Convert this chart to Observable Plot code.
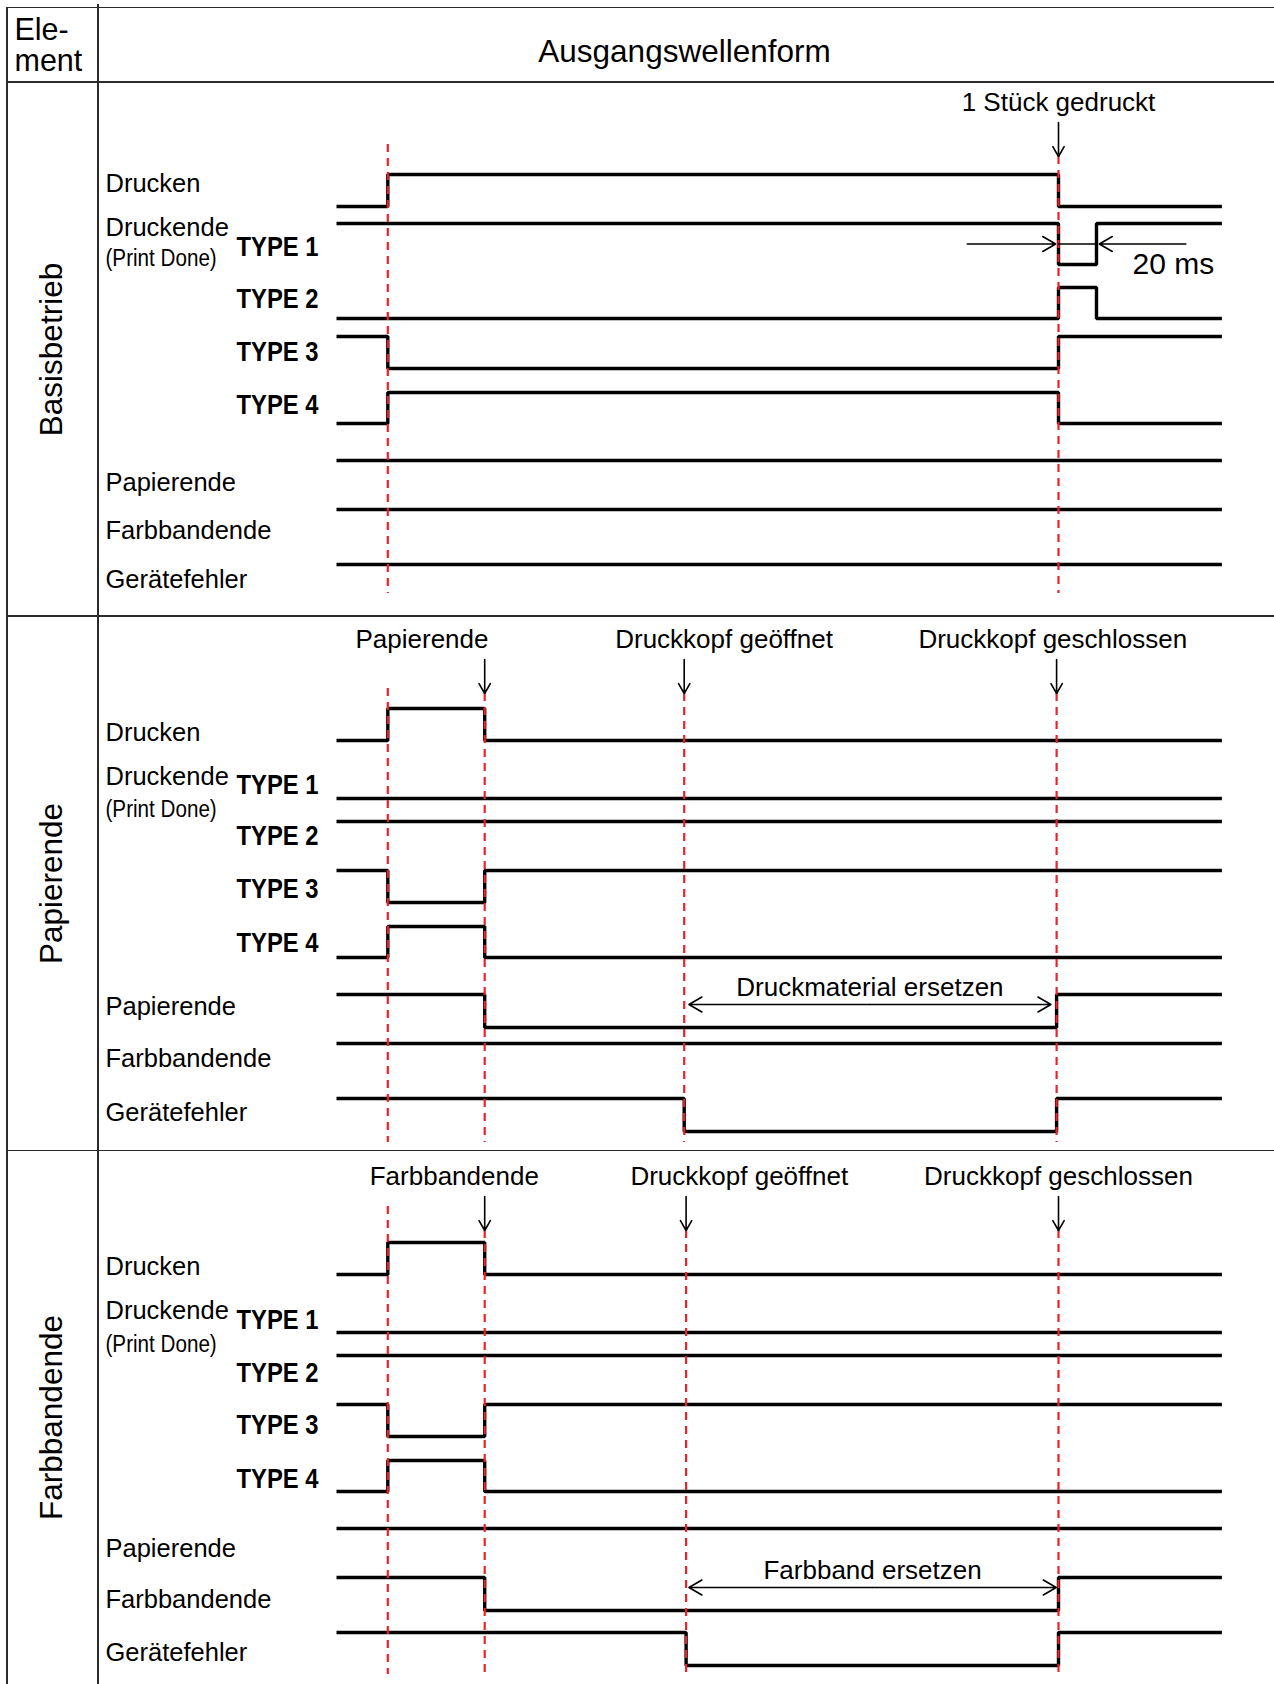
<!DOCTYPE html>
<html><head><meta charset="utf-8">
<script src="https://cdn.jsdelivr.net/npm/d3@7"></script>
<script src="https://cdn.jsdelivr.net/npm/@observablehq/plot@0.6"></script>
<style>
body{margin:0;background:#fff;}
#wrap{position:relative;width:1274px;height:1684px;overflow:hidden;background:#fff;}
#wrap svg{position:absolute;left:0;top:0;}
.gl{position:absolute;background:#2b2b2b;}
</style></head><body>
<div id="wrap"></div>
<script>
// ---------------- data ----------------
const sections = ["Basisbetrieb", "Papierende", "Farbbandende"];
const signals = ["Drucken", "TYPE 1", "TYPE 2", "TYPE 3", "TYPE 4", "Papierende", "Farbbandende", "Gerätefehler"];
const signalLabels = ["Drucken", "Druckende", "(Print Done)", "TYPE 1", "TYPE 2", "TYPE 3", "TYPE 4", "Papierende", "Farbbandende", "Gerätefehler"];
const labelKinds = ["normal", "normal", "narrow", "type", "type", "type", "type", "normal", "normal", "normal"];
const headerElement = ["Ele-", "ment"];
const headerTitle = ["Ausgangswellenform"];
const timeEnd = 466; // time units (20 ms pulse = 20 units)

// initial level (1 = high, 0 = low) and toggle times per signal
const basisInitial = [0, 1, 0, 1, 0, 1, 1, 1];
const basisToggles = [[27, 380], [380, 400], [380, 400], [27, 380], [27, 380], [], [], []];
const paperInitial = [0, 0, 1, 1, 0, 1, 1, 1];
const paperToggles = [[27, 78], [], [], [27, 78], [27, 78], [78, 379], [], [183, 379]];
const ribbonInitial = [0, 0, 1, 1, 0, 1, 1, 1];
const ribbonToggles = [[27, 78], [], [], [27, 78], [27, 78], [], [78, 380], [184, 380]];

// red dashed event times
const basisEvents = [27, 380];
const paperEvents = [27, 78, 183, 379];
const ribbonEvents = [27, 78, 184, 380];

// event notes: [text, arrow time, text centre time]
const basisNotes = [["1 Stück gedruckt", 380, 380]];
const paperNotes = [["Papierende", 78, 45], ["Druckkopf geöffnet", 183, 204], ["Druckkopf geschlossen", 379, 377]];
const ribbonNotes = [["Farbbandende", 78, 62], ["Druckkopf geöffnet", 184, 212], ["Druckkopf geschlossen", 380, 380]];

// duration notes: [text, from, to, signal index]
const pulseNote = ["20 ms", 380, 400, 1];
const paperSpan = ["Druckmaterial ersetzen", 185.5, 376, 5];
const ribbonSpan = ["Farbband ersetzen", 185.5, 378.8, 6];

// ---------------- layout ----------------
const W = 1274, H = 1684;
const FONT = "'Liberation Sans', Arial, Helvetica, sans-serif";
const sectionTop = [82, 616, 1150];
const sectionH = 534;
const xRange = [336, 336 + 1.9 * timeEnd];
const rowHigh = [92, 141, 205, 254, 310, 378, 427, 482];
const rowLow  = [124, 182, 236, 286, 341, 411, 460, 515];
const labelYs = [
  [109, 153, 183, 173, 225, 278, 331, 408, 456, 505],
  [124, 168, 200, 177, 228, 281, 335, 398, 450, 504],
  [124, 168, 201, 178, 231, 283, 337, 406, 457, 510]
];
const labelX = {normal: 105, narrow: 105, type: 236};
const noteBaseline = [28, 31, 34];
const guideTop = [62, 72, 56];
const guideBottom = [511, 526, 524];

const inits = [basisInitial, paperInitial, ribbonInitial];
const toggles = [basisToggles, paperToggles, ribbonToggles];
const events = [basisEvents, paperEvents, ribbonEvents];
const notes = [basisNotes, paperNotes, ribbonNotes];

const levelY = (s, i, l) => sectionTop[s] + (l ? rowHigh[i] : rowLow[i]);

// waveform step points
const wavePts = [];
sections.forEach((sec, s) => signals.forEach((sig, i) => {
  let l = inits[s][i];
  const key = s + "|" + i;
  wavePts.push({key, t: 0, y: levelY(s, i, l)});
  for (const t of toggles[s][i]) { l = 1 - l; wavePts.push({key, t, y: levelY(s, i, l)}); }
  wavePts.push({key, t: timeEnd, y: levelY(s, i, l)});
}));

// notes + arrows
const noteRows = [];
notes.forEach((arr, s) => arr.forEach(([text, t, tc]) => {
  const b = sectionTop[s] + noteBaseline[s];
  noteRows.push({s, text, t, tc, y: b, y1: b + 12, y2: b + 46});
}));

// guides
const guideRows = [];
events.forEach((arr, s) => arr.forEach(t => {
  const n = noteRows.find(d => d.t === t && d.s === s);
  guideRows.push({t, y1: n ? n.y2 : sectionTop[s] + guideTop[s], y2: sectionTop[s] + guideBottom[s]});
}));

// spans
const spanRows = [[paperSpan, 1], [ribbonSpan, 2]].map(([[text, a, b, sig], s]) => ({
  text, a, b, m: (a + b) / 2,
  y: sectionTop[s] + rowLow[sig] - 23,
  ty: sectionTop[s] + rowLow[sig] - 32
}));

// pulse dimension
const pY = sectionTop[0] + (rowHigh[pulseNote[3]] + rowLow[pulseNote[3]]) / 2;
const pulseArrows = [
  {x1: pulseNote[1] - 48, x2: pulseNote[1] - 1.5},
  {x1: pulseNote[2] + 47, x2: pulseNote[2] + 1.5}
];

// labels
const labelRows = [];
sections.forEach((sec, s) => signalLabels.forEach((lab, j) => {
  labelRows.push({text: lab, kind: labelKinds[j], x: labelX[labelKinds[j]], y: sectionTop[s] + labelYs[s][j]});
}));

const arrowOpts = {stroke: "#000", strokeWidth: 1.6, headLength: 14, headAngle: 60};

const plot = Plot.plot({
  width: W, height: H,
  marginTop: 0, marginRight: 0, marginBottom: 0, marginLeft: 0,
  x: {domain: [0, timeEnd], range: xRange, axis: null},
  y: {type: "identity", axis: null},
  style: {fontFamily: FONT, fontSize: "25.5px", color: "#000", background: "transparent", overflow: "visible"},
  marks: [
    Plot.line(wavePts, {x: "t", y: "y", z: "key", curve: "step-after", stroke: "#000", strokeWidth: 3.4, strokeLinejoin: "miter", strokeLinecap: "butt"}),
    Plot.ruleX(guideRows, {x: "t", y1: "y1", y2: "y2", stroke: "#f0202a", strokeWidth: 2.2, strokeDasharray: "8,6"}),
    Plot.arrow(noteRows, {x1: "t", x2: "t", y1: "y1", y2: "y2", ...arrowOpts}),
    Plot.text(noteRows, {x: "tc", y: "y", text: "text", textAnchor: "middle", lineAnchor: "bottom", fontSize: 26, fill: "#000"}),
    Plot.arrow(spanRows, {x1: "m", x2: "a", y1: "y", y2: "y", ...arrowOpts}),
    Plot.arrow(spanRows, {x1: "m", x2: "b", y1: "y", y2: "y", ...arrowOpts}),
    Plot.text(spanRows, {x: "m", y: "ty", text: "text", textAnchor: "middle", lineAnchor: "bottom", fontSize: 26, fill: "#000"}),
    Plot.arrow(pulseArrows, {x1: "x1", x2: "x2", y1: () => pY, y2: () => pY, ...arrowOpts}),
    Plot.ruleY([pulseNote], {x1: d => d[1], x2: d => d[2], y: () => pY, stroke: "#000", strokeWidth: 1.3}),
    Plot.text([pulseNote], {x: d => d[2] + 19, y: () => sectionTop[0] + rowLow[pulseNote[3]] + 9, text: d => d[0], textAnchor: "start", lineAnchor: "bottom", fontSize: 30, fill: "#000"})
  ]
});

// label layer (identity positions)
const labelPlot = Plot.plot({
  width: W, height: H,
  marginTop: 0, marginRight: 0, marginBottom: 0, marginLeft: 0,
  x: {type: "identity", axis: null},
  y: {type: "identity", axis: null},
  style: {fontFamily: FONT, fontSize: "25.5px", color: "#000", background: "transparent", overflow: "visible"},
  marks: [
    Plot.text(labelRows.filter(d => d.kind === "normal"), {x: "x", y: "y", text: "text", textAnchor: "start", lineAnchor: "bottom", fontSize: 25.5, fill: "#000"}),
    Plot.text(labelRows.filter(d => d.kind === "narrow"), {x: "x", y: "y", text: "text", textAnchor: "start", lineAnchor: "bottom", fontSize: 24, fill: "#000"}),
    Plot.text(labelRows.filter(d => d.kind === "type"), {x: "x", y: "y", text: "text", textAnchor: "start", lineAnchor: "bottom", fontSize: 28, fontWeight: "bold", fill: "#000"}),
    Plot.text(sections, {x: () => 61, y: (d, i) => sectionTop[i] + sectionH / 2, text: d => d, rotate: -90, textAnchor: "middle", lineAnchor: "bottom", fontSize: 31.5, fill: "#000"}),
    Plot.text(headerElement, {x: () => 14, y: (d, i) => 39 + i * 31, text: d => d, textAnchor: "start", lineAnchor: "bottom", fontSize: 30.5, fill: "#000"}),
    Plot.text(headerTitle, {x: () => 684, y: () => 61, text: d => d, textAnchor: "middle", lineAnchor: "bottom", fontSize: 31.5, fill: "#000"})
  ]
});

const wrap = document.getElementById("wrap");
// table grid
const lines = [
  {l: 6, t: 6.5, w: W - 6, h: 1.6},
  {l: 6, t: 6.5, w: 1.6, h: H},
  {l: 97, t: 4, w: 1.6, h: H},
  {l: 6, t: 81, w: W - 6, h: 1.6},
  {l: 6, t: sectionTop[1] - 1, w: W - 6, h: 1.6},
  {l: 6, t: sectionTop[2] - 0.5, w: W - 6, h: 1.6}
];
for (const g of lines) {
  const d = document.createElement("div");
  d.className = "gl";
  d.style.cssText = `left:${g.l}px;top:${g.t}px;width:${g.w}px;height:${g.h}px;`;
  wrap.appendChild(d);
}
wrap.appendChild(plot);
wrap.appendChild(labelPlot);

// condensed faces for TYPE labels and (Print Done)
d3.select(labelPlot).selectAll("text").each(function () {
  const s = this.textContent;
  let k = 0;
  if (/^TYPE \d$/.test(s)) k = 0.85;
  else if (s === "(Print Done)") k = 0.86;
  if (k) {
    const tr = this.getAttribute("transform") || "";
    this.setAttribute("transform", tr + ` scale(${k},1)`);
  }
});
</script>
</body></html>
